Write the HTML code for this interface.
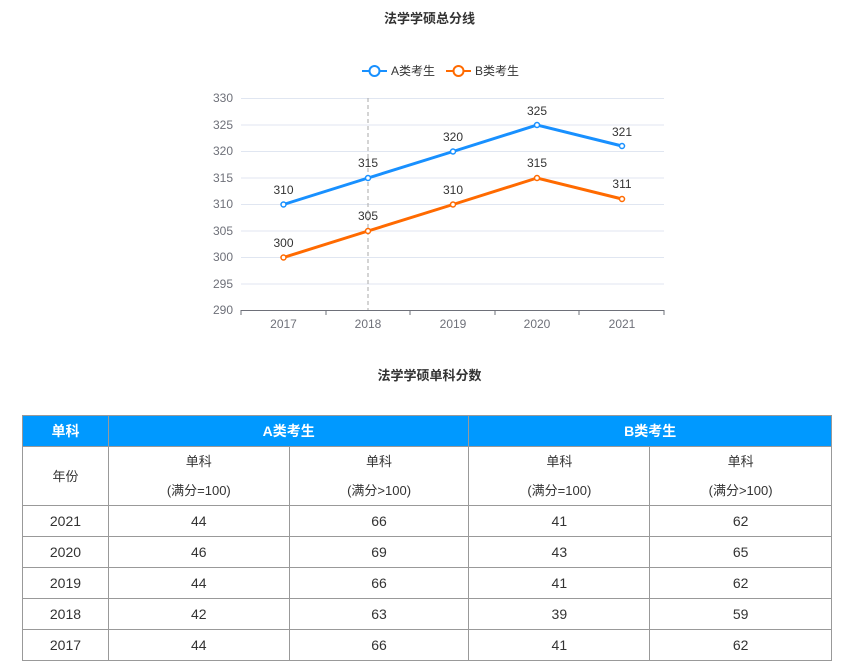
<!DOCTYPE html>
<html><head><meta charset="utf-8"><style>
body{margin:0;width:859px;height:672px;background:#fff;font-family:"Liberation Sans","Noto Sans CJK SC",sans-serif;position:relative;overflow:hidden}
.t{position:absolute;left:0;width:859px;text-align:center;font-weight:bold;font-size:13px;color:#333}
table{position:absolute;left:22px;top:415px;border-collapse:collapse;width:810px;font-size:14px;color:#333}
td{border:1px solid #999;text-align:center;padding:0;height:30px}
tr.h td{background:#0099ff;color:#fff;font-weight:bold;border-color:#999}
tr.s td{height:58px;line-height:29px;font-size:13px}
</style></head><body>
<div class="t" style="top:8px">法学学硕总分线</div>
<svg width="859" height="340" style="position:absolute;left:0;top:0" font-family="Liberation Sans,Noto Sans CJK SC,sans-serif">
<g stroke="#e0e6f1">
<line x1="241" x2="664" y1="98.5" y2="98.5"/><line x1="241" x2="664" y1="125" y2="125"/><line x1="241" x2="664" y1="151.5" y2="151.5"/><line x1="241" x2="664" y1="178" y2="178"/><line x1="241" x2="664" y1="204.5" y2="204.5"/><line x1="241" x2="664" y1="231" y2="231"/><line x1="241" x2="664" y1="257.5" y2="257.5"/><line x1="241" x2="664" y1="284" y2="284"/>
</g>
<line x1="368" x2="368" y1="98" y2="310" stroke="#aaa" stroke-dasharray="4,3"/>
<line x1="241" x2="664" y1="310.5" y2="310.5" stroke="#6e7079"/>
<g stroke="#6e7079"><line x1="241" x2="241" y1="310" y2="315"/><line x1="326" x2="326" y1="310" y2="315"/><line x1="410" x2="410" y1="310" y2="315"/><line x1="495" x2="495" y1="310" y2="315"/><line x1="579" x2="579" y1="310" y2="315"/><line x1="664" x2="664" y1="310" y2="315"/></g>
<g font-size="12" fill="#6e7079" text-anchor="end">
<text x="233" y="102">330</text><text x="233" y="129">325</text><text x="233" y="155">320</text><text x="233" y="182">315</text><text x="233" y="208">310</text><text x="233" y="235">305</text><text x="233" y="261">300</text><text x="233" y="288">295</text><text x="233" y="314">290</text></g>
<g font-size="12" fill="#6e7079" text-anchor="middle">
<text x="283.5" y="328">2017</text><text x="368" y="328">2018</text><text x="453" y="328">2019</text><text x="537" y="328">2020</text><text x="622" y="328">2021</text></g>
<polyline fill="none" stroke="#1890ff" stroke-width="3" points="283.5,204.5 368,178 453,151.5 537,125 622,146"/>
<polyline fill="none" stroke="#ff6a00" stroke-width="3" points="283.5,257.5 368,231 453,204.5 537,178 622,199"/>
<g fill="#fff" stroke="#1890ff" stroke-width="1.5"><circle cx="283.5" cy="204.5" r="2.5"/><circle cx="368" cy="178" r="2.5"/><circle cx="453" cy="151.5" r="2.5"/><circle cx="537" cy="125" r="2.5"/><circle cx="622" cy="146" r="2.5"/></g>
<g fill="#fff" stroke="#ff6a00" stroke-width="1.5"><circle cx="283.5" cy="257.5" r="2.5"/><circle cx="368" cy="231" r="2.5"/><circle cx="453" cy="204.5" r="2.5"/><circle cx="537" cy="178" r="2.5"/><circle cx="622" cy="199" r="2.5"/></g>
<g font-size="12" fill="#333" text-anchor="middle">
<text x="283.5" y="194">310</text><text x="368" y="167">315</text><text x="453" y="141">320</text><text x="537" y="115">325</text><text x="622" y="136">321</text>
<text x="283.5" y="247">300</text><text x="368" y="220">305</text><text x="453" y="194">310</text><text x="537" y="167">315</text><text x="622" y="188">311</text></g>
<line x1="362" x2="387" y1="71" y2="71" stroke="#1890ff" stroke-width="2"/><circle cx="374.5" cy="71" r="5" fill="#fff" stroke="#1890ff" stroke-width="2"/>
<text x="391" y="75" font-size="12" fill="#333">A类考生</text>
<line x1="446" x2="471" y1="71" y2="71" stroke="#ff6a00" stroke-width="2"/><circle cx="458.5" cy="71" r="5" fill="#fff" stroke="#ff6a00" stroke-width="2"/>
<text x="475" y="75" font-size="12" fill="#333">B类考生</text>
</svg>
<div class="t" style="top:365px">法学学硕单科分数</div>
<table>
<colgroup><col style="width:86px"><col style="width:181px"><col style="width:180px"><col style="width:181px"><col style="width:182px"></colgroup>
<tr class="h"><td>单科</td><td colspan="2">A类考生</td><td colspan="2">B类考生</td></tr>
<tr class="s"><td>年份</td><td>单科<br>(满分=100)</td><td>单科<br>(满分&gt;100)</td><td>单科<br>(满分=100)</td><td>单科<br>(满分&gt;100)</td></tr>
<tr><td>2021</td><td>44</td><td>66</td><td>41</td><td>62</td></tr>
<tr><td>2020</td><td>46</td><td>69</td><td>43</td><td>65</td></tr>
<tr><td>2019</td><td>44</td><td>66</td><td>41</td><td>62</td></tr>
<tr><td>2018</td><td>42</td><td>63</td><td>39</td><td>59</td></tr>
<tr><td>2017</td><td>44</td><td>66</td><td>41</td><td>62</td></tr>
</table>
</body></html>
